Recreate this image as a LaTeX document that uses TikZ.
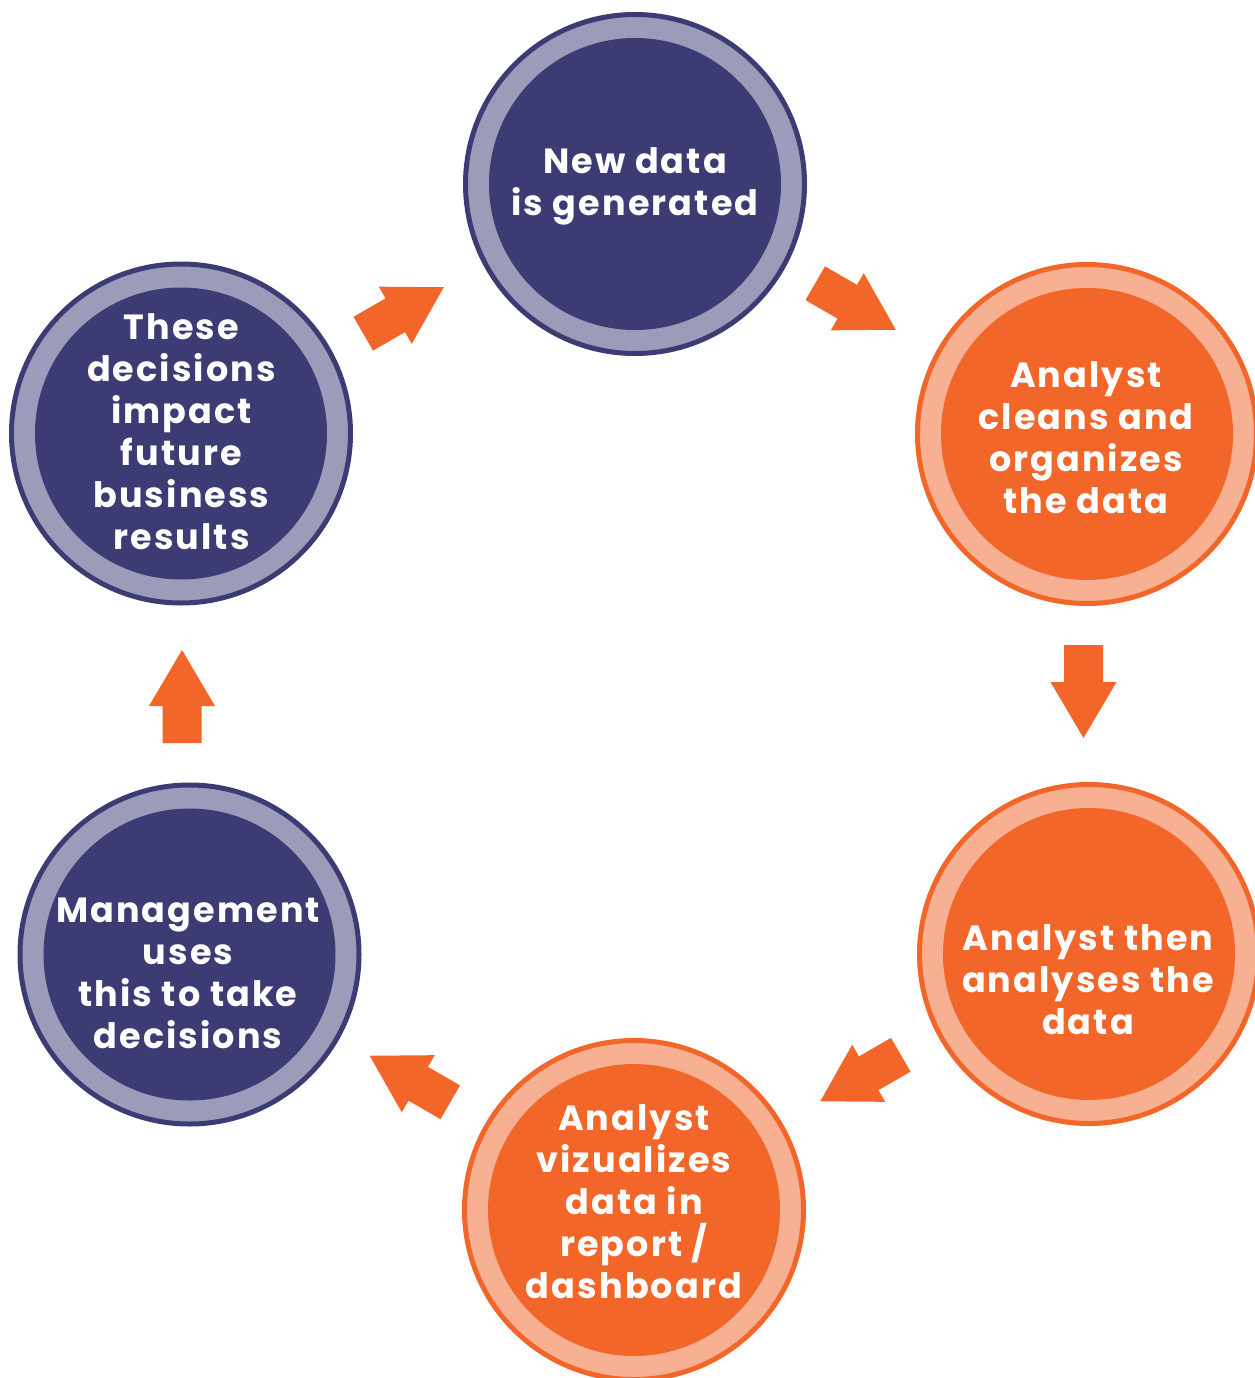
\documentclass[tikz,border=0pt]{standalone}
\usepackage{fontspec}
\newfontfamily\cyclefont{Poppins}[LetterSpace=6]
\definecolor{navy}{HTML}{3D3B73}
\definecolor{lavender}{HTML}{9C9BBA}
\definecolor{corange}{HTML}{F26629}
\definecolor{peach}{HTML}{F7B091}
\tikzset{
  ringdisc/.style={circle, minimum size=339pt, line width=5pt, inner sep=0pt, outer sep=0pt},
  navyring/.style={ringdisc, draw=navy, fill=lavender},
  orangering/.style={ringdisc, draw=corange, fill=peach},
  corediscbase/.style={circle, minimum size=292pt, inner sep=0pt, outer sep=0pt},
  navycore/.style={corediscbase, fill=navy},
  orangecore/.style={corediscbase, fill=corange},
  steptext/.style={text=white, align=center, inner sep=0pt, anchor=base,
    font=\cyclefont\bfseries\fontsize{35}{42}\selectfont},
  flowarrow/.pic={\fill[corange] (-46.5,-19.5) -- (-9.5,-19.5) -- (-9.5,-33) -- (46.5,0)
     -- (-9.5,33) -- (-9.5,19.5) -- (-46.5,19.5) -- cycle;}
}
\begin{document}
\begin{tikzpicture}[x=1pt,y=-1pt]
\useasboundingbox (0,0) rectangle (1254,1378);
% rings
\node[navyring]   (c1) at (635,184) {};
\node[orangering] (c2) at (1087,434) {};
\node[orangering] (c3) at (1089,954) {};
\node[orangering] (c4) at (634,1210) {};
\node[navyring]   (c5) at (189.5,954.5) {};
\node[navyring]   (c6) at (181,433.5) {};
% cores
\node[navycore]   (k1) at (c1.center) {};
\node[orangecore] (k2) at (c2.center) {};
\node[orangecore] (k3) at (c3.center) {};
\node[orangecore] (k4) at (c4.center) {};
\node[navycore]   (k5) at (c5.center) {};
\node[navycore]   (k6) at (c6.center) {};
% texts (anchor = baseline of the last line)
\node[steptext] (t1) at (635,215) {New data\\is generated};
\node[steptext] (t2) at (1086,513) {Analyst\\cleans and\\organizes\\the data};
\node[steptext] (t3) at (1088,1034) {Analyst then\\analyses the\\data};
\node[steptext] (t4) at (634,1298) {Analyst\\vizualizes\\data in\\report /\\dashboard};
\node[steptext] (t5) at (188,1048) {Management\\uses\\this to take\\decisions};
\node[steptext] (t6) at (181.5,549) {These\\decisions\\impact\\future\\business\\results};
% arrows
\pic (a1) [rotate=-30]  at (855.5,306.5) {flowarrow};
\pic (a2) [rotate=-90]  at (1083.5,691.5) {flowarrow};
\pic (a3) [rotate=-150] at (860.5,1078) {flowarrow};
\pic (a4) [rotate=150]  at (410,1079) {flowarrow};
\pic (a5) [rotate=90]   at (182,696.5) {flowarrow};
\pic (a6) [rotate=30]   at (403.5,310.5) {flowarrow};
\end{tikzpicture}
\end{document}
